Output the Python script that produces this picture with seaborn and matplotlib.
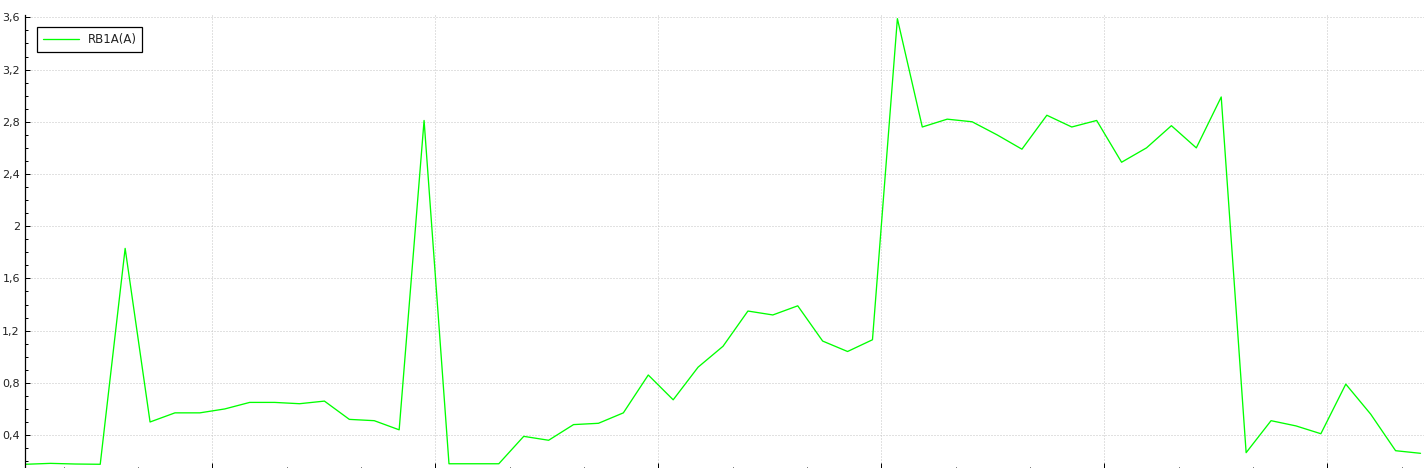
import numpy as np
import pandas as pd
import seaborn as sns
import matplotlib.pyplot as plt
from matplotlib.ticker import FixedLocator, MultipleLocator, FuncFormatter

# RB1A(A) current readings, one per sample
sample = list(range(57))
current = [0.176, 0.183, 0.178, 0.176, 1.83, 0.50, 0.57, 0.57, 0.60, 0.65,
           0.65, 0.64, 0.66, 0.52, 0.51, 0.44, 2.81, 0.18, 0.18, 0.18,
           0.39, 0.36, 0.48, 0.49, 0.57, 0.86, 0.67, 0.92, 1.08, 1.35,
           1.32, 1.39, 1.12, 1.04, 1.13, 3.59, 2.76, 2.82, 2.80, 2.70,
           2.59, 2.85, 2.76, 2.81, 2.49, 2.60, 2.77, 2.60, 2.99, 0.265,
           0.51, 0.47, 0.41, 0.79, 0.56, 0.28, 0.26]
series_name = 'RB1A(A)'
y_ticks = [0.4, 0.8, 1.2, 1.6, 2.0, 2.4, 2.8, 3.2, 3.6]

df = pd.DataFrame({'x': sample, 'y': current})

sns.set_style('white')
plt.rcParams['font.family'] = ['DejaVu Sans']

W, H = 1424, 468
fig = plt.figure(figsize=(W / 100, H / 100), dpi=100)
# axes in pixels: left 25.5, top 15, bottom 469.5 (just below the image), right 1424
ax = fig.add_axes([25.5 / W, -1.5 / H, (W - 25.5) / W, 454.5 / H])

sns.lineplot(data=df, x='x', y='y', ax=ax, color='#00ff00', linewidth=0.95,
             label=series_name)

ax.set_xlim(0, 56.14)
ax.set_ylim(0.136, 3.618)

ax.xaxis.set_major_locator(FixedLocator(np.arange(7.5, 57, 8.95)))
ax.xaxis.set_minor_locator(FixedLocator(np.arange(1.54, 57, 8.95 / 3)))
ax.yaxis.set_major_locator(FixedLocator(y_ticks))
ax.yaxis.set_minor_locator(MultipleLocator(0.1))
ax.yaxis.set_major_formatter(FuncFormatter(lambda v, p: f'{v:g}'.replace('.', ',')))

ax.tick_params(axis='y', which='major', direction='in', length=3.6, width=0.72,
               color='black', labelsize=8, labelcolor='#222222', pad=4, left=True)
ax.tick_params(axis='y', which='minor', direction='in', length=2.2, width=0.72,
               color='black', left=True)
ax.tick_params(axis='x', which='major', direction='in', length=4.7, width=0.72,
               color='black', bottom=True, labelbottom=False)
ax.tick_params(axis='x', which='minor', direction='in', length=2.5, width=0.72,
               color='black', bottom=True)

ax.grid(True, which='major', color='#c4c4c4', linestyle=(0, (1, 2)), linewidth=0.72)
ax.set_xlabel('')
ax.set_ylabel('')

for s in ['top', 'right', 'bottom']:
    ax.spines[s].set_visible(False)
ax.spines['left'].set_color('black')
ax.spines['left'].set_linewidth(0.9)

leg = ax.legend(loc='upper left', bbox_to_anchor=(11.2 / 1398.5, 1 - 12.3 / 454.5),
                borderaxespad=0, fontsize=8.5, handlelength=3.1, handletextpad=0.7,
                borderpad=0.5, fancybox=False, framealpha=1, edgecolor='black')
leg.get_frame().set_linewidth(0.9)
for t in leg.get_texts():
    t.set_color('#222222')

fig.savefig('out.png', dpi=100)
